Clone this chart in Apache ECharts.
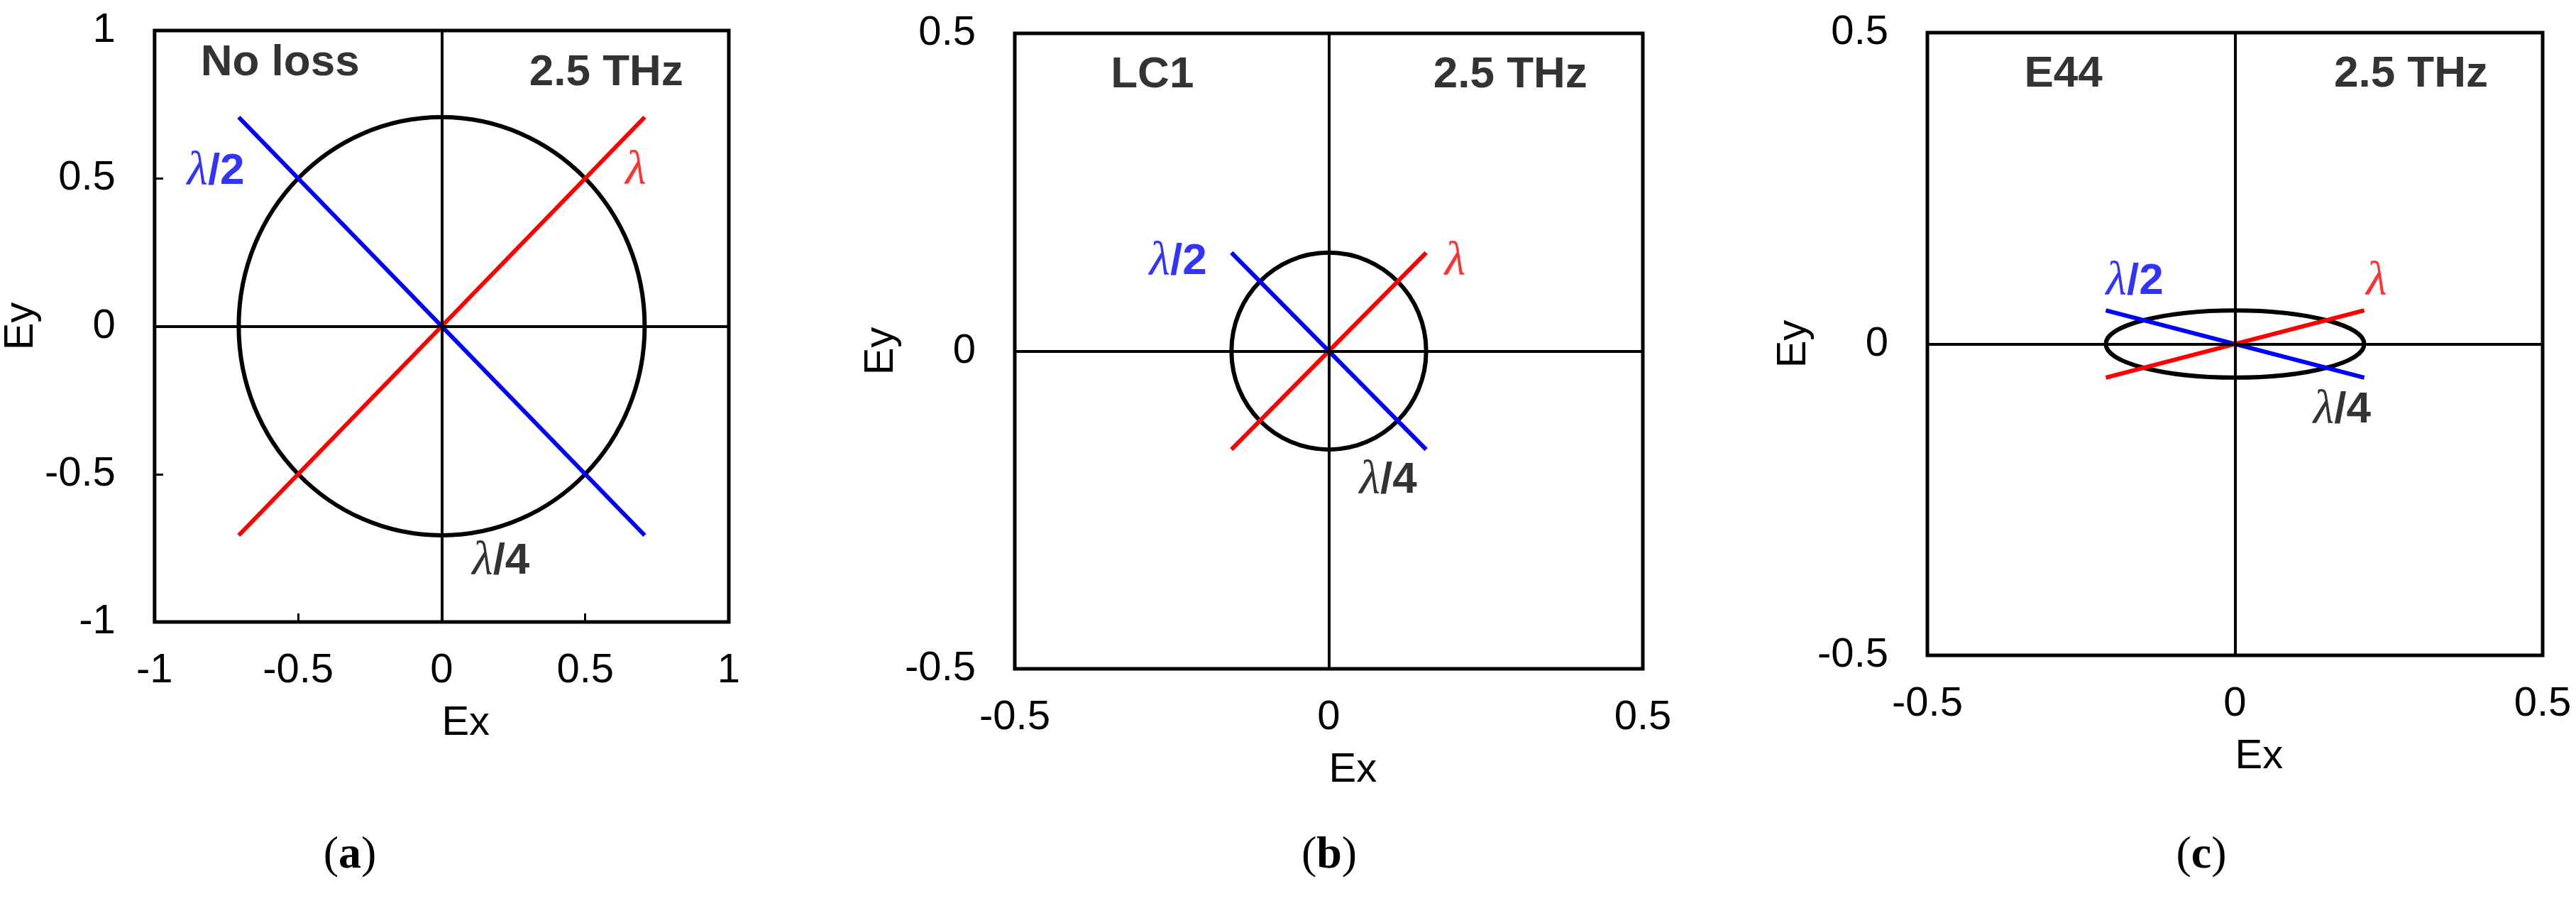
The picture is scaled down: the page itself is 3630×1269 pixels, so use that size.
<!DOCTYPE html>
<html>
<head>
<meta charset="utf-8">
<script src="https://cdn.jsdelivr.net/npm/echarts@6/dist/echarts.min.js"></script>
<style>
  html, body { margin: 0; padding: 0; background: #fff; }
  #chart { width: 3630px; height: 1269px; }
</style>
</head>
<body>
<div id="chart"></div>
<script>
// ---------------- data ----------------
const ticksA = [-1, -0.5, 0, 0.5, 1];
const ticksB = [-0.5, 0, 0.5];
const ticksC = [-0.5, 0, 0.5];

// polarization ellipse semi-axes [Ex amplitude, Ey amplitude]
const ellipseA = [0.707, 0.707];
const ellipseB = [0.155, 0.155];
const ellipseC = [0.21, 0.054];

// lambda/2 (blue) and lambda (red) linear polarization lines
const halfWaveA = [[-0.707, 0.707], [0.707, -0.707]];
const fullWaveA = [[-0.707, -0.707], [0.707, 0.707]];
const halfWaveB = [[-0.155, 0.155], [0.155, -0.155]];
const fullWaveB = [[-0.155, -0.155], [0.155, 0.155]];
const halfWaveC = [[-0.21, 0.054], [0.21, -0.054]];
const fullWaveC = [[-0.21, -0.054], [0.21, 0.054]];

const panelNames = ['No loss', 'LC1', 'E44'];
const freqLabel = '2.5 THz';
const panelLetters = ['a', 'b', 'c'];

// annotation anchor points (data coords) per panel: [name, freq, λ/2, λ, λ/4]
const annotA = [[-0.563, 0.89], [0.573, 0.855], [-0.787, 0.523], [0.676, 0.525], [0.206, -0.796]];
const annotB = [[-0.281, 0.434], [0.289, 0.434], [-0.240, 0.140], [0.201, 0.140], [0.0945, -0.204]];
const annotC = [[-0.279, 0.433], [0.286, 0.433], [-0.163, 0.100], [0.230, 0.100], [0.174, -0.107]];

// ---------------- layout ----------------
const grids = [
  { left: 203, top: 43, width: 824, height: 833 },
  { left: 1430, top: 47, width: 885, height: 895 },
  { left: 2716, top: 46, width: 867, height: 877 }
];
const letterPos = [[493, 1205], [1873, 1205], [3102, 1205]];

const SANS = 'Liberation Sans';
const SERIF = 'Liberation Serif';
const BLUE = '#0000ff', RED = '#ff0000', BLACK = '#000000';

const noStroke = { textBorderWidth: 0, textBorderColor: 'transparent', textShadowBlur: 0 };
const rich = {
  t:  Object.assign({ fontFamily: SANS, fontWeight: 'bold', fontSize: 62, color: BLACK }, noStroke),
  lB: Object.assign({ fontFamily: SERIF, fontStyle: 'italic', fontSize: 68, color: BLUE }, noStroke),
  lR: Object.assign({ fontFamily: SERIF, fontStyle: 'italic', fontSize: 68, color: RED }, noStroke),
  lK: Object.assign({ fontFamily: SERIF, fontStyle: 'italic', fontSize: 68, color: BLACK }, noStroke),
  sB: Object.assign({ fontFamily: SANS, fontWeight: 'bold', fontSize: 62, color: BLUE }, noStroke),
  sK: Object.assign({ fontFamily: SANS, fontWeight: 'bold', fontSize: 62, color: BLACK }, noStroke)
};

function annotTexts(name) {
  return [
    '{t|' + name + '}',
    '{t|' + freqLabel + '}',
    '{lB|λ}{sB|/2}',
    '{lR|λ}',
    '{lK|λ}{sK|/4}'
  ];
}

const panels = [
  { ticks: ticksA, ell: ellipseA, half: halfWaveA, full: fullWaveA, annot: annotA, name: panelNames[0] },
  { ticks: ticksB, ell: ellipseB, half: halfWaveB, full: fullWaveB, annot: annotB, name: panelNames[1] },
  { ticks: ticksC, ell: ellipseC, half: halfWaveC, full: fullWaveC, annot: annotC, name: panelNames[2] }
];

const grid = [], xAxis = [], yAxis = [], series = [], graphic = [];

panels.forEach((p, i) => {
  grid.push(Object.assign({
    show: true, borderColor: BLACK, borderWidth: 5, backgroundColor: 'transparent'
  }, grids[i]));

  const axisCommon = {
    type: 'value',
    gridIndex: i,
    min: p.ticks[0],
    max: p.ticks[p.ticks.length - 1],
    interval: p.ticks[1] - p.ticks[0],
    axisLine: { show: false, onZero: false },
    axisTick: { show: true, inside: true, length: 12, lineStyle: { color: BLACK, width: 3 } },
    splitLine: { show: false },
    nameLocation: 'middle'
  };

  xAxis.push(Object.assign({}, axisCommon, {
    name: 'Ex',
    nameGap: 114,
    nameTextStyle: { fontFamily: SANS, fontSize: 58, color: BLACK, align: 'left' },
    axisLabel: { margin: 40, fontFamily: SANS, fontSize: 58, color: BLACK }
  }));
  yAxis.push(Object.assign({}, axisCommon, {
    name: 'Ey',
    nameGap: 136,
    nameTextStyle: { fontFamily: SANS, fontSize: 58, color: BLACK },
    axisLabel: { margin: 55, fontFamily: SANS, fontSize: 58, color: BLACK }
  }));

  // crosshair through origin
  series.push({
    type: 'line', xAxisIndex: i, yAxisIndex: i, z: 1,
    data: [[0, 0]], symbol: 'none', lineStyle: { width: 0 }, silent: true,
    markLine: {
      silent: true, symbol: ['none', 'none'], animation: false,
      label: { show: false },
      lineStyle: { color: BLACK, width: 4, type: 'solid' },
      data: [{ xAxis: 0 }, { yAxis: 0 }]
    }
  });

  // polarization ellipse
  series.push({
    type: 'custom', xAxisIndex: i, yAxisIndex: i, z: 2,
    data: [[0, 0, p.ell[0], p.ell[1]]],
    renderItem: function (params, api) {
      const c = api.coord([api.value(0), api.value(1)]);
      const s = api.size([api.value(2), api.value(3)]);
      return {
        type: 'ellipse',
        shape: { cx: c[0], cy: c[1], rx: s[0], ry: s[1] },
        style: { fill: 'none', stroke: BLACK, lineWidth: 6 }
      };
    }
  });

  series.push({
    type: 'line', xAxisIndex: i, yAxisIndex: i, z: 3,
    data: p.half, symbol: 'none', lineStyle: { color: BLUE, width: 6 }
  });
  series.push({
    type: 'line', xAxisIndex: i, yAxisIndex: i, z: 4,
    data: p.full, symbol: 'none', lineStyle: { color: RED, width: 6 }
  });

  const texts = annotTexts(p.name);
  series.push({
    type: 'scatter', xAxisIndex: i, yAxisIndex: i, z: 5,
    symbolSize: 0,
    itemStyle: { color: 'transparent' },
    data: p.annot.map((pt, k) => ({
      value: pt,
      label: Object.assign({
        show: true, position: 'inside', color: BLACK,
        formatter: texts[k], rich: rich
      }, noStroke)
    }))
  });

  graphic.push({
    type: 'text',
    x: letterPos[i][0], y: letterPos[i][1],
    style: {
      text: '{p|(}{b|' + panelLetters[i] + '}{p|)}',
      align: 'center', verticalAlign: 'middle',
      rich: {
        p: { fontFamily: SERIF, fontSize: 64, color: BLACK },
        b: { fontFamily: SERIF, fontSize: 64, fontWeight: 'bold', color: BLACK }
      }
    }
  });
});

const chart = echarts.init(document.getElementById('chart'), null, { renderer: 'canvas' });
chart.setOption({
  animation: false,
  backgroundColor: '#ffffff',
  grid: grid,
  xAxis: xAxis,
  yAxis: yAxis,
  series: series,
  graphic: graphic
});
</script>
</body>
</html>
